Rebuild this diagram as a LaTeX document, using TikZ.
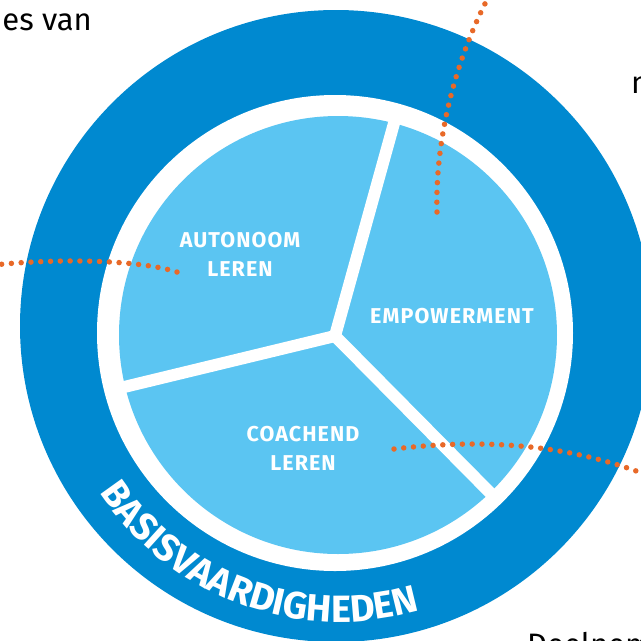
\documentclass[tikz,border=0pt]{standalone}
\usepackage{fontspec}
\setmainfont{Fira Sans}
\usetikzlibrary{decorations.text}
\definecolor{ringblue}{RGB}{0,137,208}
\definecolor{pieblue}{RGB}{91,197,242}
\definecolor{dotorange}{RGB}{232,105,40}
\begin{document}
\begin{tikzpicture}[x=1pt,y=-1pt,
 seg/.style={draw=white,line width=12pt},
 lbl/.style={text=white,font=\fontsize{21.5}{29}\selectfont\bfseries\addfontfeature{LetterSpace=5},align=center,inner sep=0pt},
 dots/.style={draw=dotorange,line width=5.5pt,line cap=round,dash pattern=on 0pt off 9.8pt},
 side/.style={text=black,font=\fontsize{31}{36}\selectfont,inner sep=0pt}]
\useasboundingbox (0,0) rectangle (641,641);
\clip (0,0) rectangle (641,641);
\fill[ringblue] (336,326) circle[radius=316];
\fill[white] (335,333) circle[radius=238];
\fill[pieblue] (338,335) circle[radius=219];
\coordinate (J) at (335,336);
\draw[seg] (J) -- ++(-74.5:226) coordinate (S1);
\draw[seg] (J) -- ++(166.4:226) coordinate (S2);
\draw[seg] (J) -- ++(45.3:226) coordinate (S3);
\fill[white] (J) circle[radius=6.5];
% labels
\node[lbl] (auto) at (240,254) {AUTONOOM\\LEREN};
\node[lbl] (emp) at (452,316) {EMPOWERMENT};
\node[lbl] (coach) at (303,448) {COACHEND\\LEREN};
% curved text
\path[decorate,decoration={text along path,text align=center,
  text={|\fontsize{38}{38}\selectfont\bfseries\addfontfeature{LetterSpace=4}\color{white}|BASISVAARDIGHEDEN}}]
  (340,334) ++(170.3:288) arc[start angle=170.3,end angle=50.3,radius=288];
% side texts
\node[side,anchor=base east] (t1) at (92,30) {es van};
\node[side,anchor=base west] (t2) at (631,93) {n};
\node[side,anchor=base west] (t3) at (527,655) {Deelnem};
% dotted connectors
\coordinate (d1a) at (437,212);
\coordinate (d1b) at (490,-6);
\coordinate (d2a) at (177,272);
\coordinate (d2b) at (-6,265);
\coordinate (d3a) at (394,449);
\coordinate (d3b) at (652,477);
\draw[dots] (d1a) .. controls (435,140) and (455,60) .. (d1b);
\draw[dots] (d2a) .. controls (140,260) and (60,258) .. (d2b);
\draw[dots] (d3a) .. controls (470,440) and (560,440) .. (d3b);
\end{tikzpicture}
\end{document}
